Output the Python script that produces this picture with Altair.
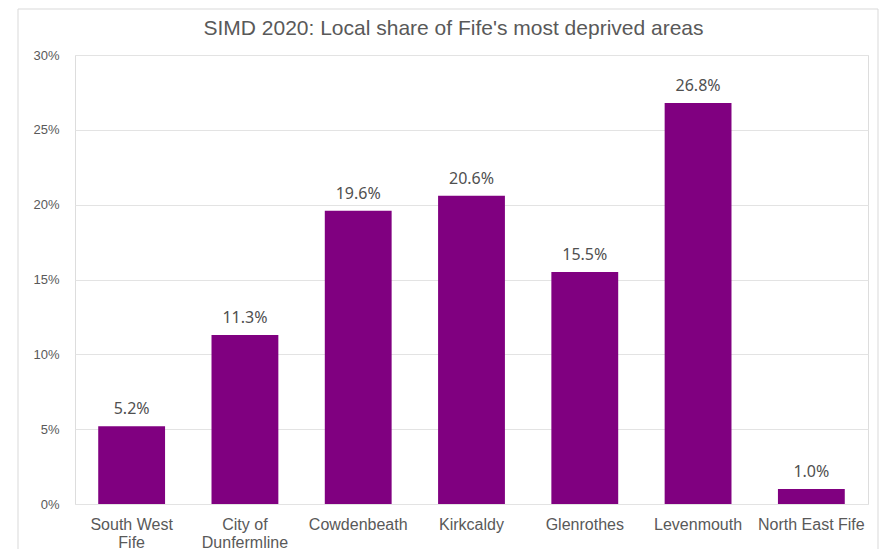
import altair as alt
import pandas as pd

areas = ["South West Fife", "City of Dunfermline", "Cowdenbeath", "Kirkcaldy",
         "Glenrothes", "Levenmouth", "North East Fife"]
shares = [5.2, 11.3, 19.6, 20.6, 15.5, 26.8, 1.0]
y_ticks = [0, 5, 10, 15, 20, 25, 30]

df = pd.DataFrame({"area": areas, "share": shares})
df["label"] = df["share"].map(lambda v: f"{v:.1f}%")

label_expr = ("datum.label == 'South West Fife' ? ['South West', 'Fife'] : "
              "datum.label == 'City of Dunfermline' ? ['City of', 'Dunfermline'] : datum.label")

base = alt.Chart(df)

x = alt.X("area:N", sort=areas, title=None,
          scale=alt.Scale(paddingInner=0.41, paddingOuter=0.205),
          axis=alt.Axis(labelAngle=0, ticks=False, domain=False, grid=False,
                        labelExpr=label_expr, labelFont="Liberation Sans",
                        labelFontSize=16, labelColor="#595959", labelPadding=12,
                        labelLineHeight=18))
y = alt.Y("share:Q", title=None,
          scale=alt.Scale(domain=[0, 30], nice=False),
          axis=alt.Axis(values=y_ticks, labelExpr="datum.value + '%'", ticks=False,
                        domain=False, grid=True, gridColor="#e3e3e3",
                        labelFont="Liberation Sans", labelFontSize=13,
                        labelColor="#595959", labelPadding=16))

bars = base.mark_bar(color="#800080").encode(x=x, y=y)
text = base.mark_text(baseline="bottom", dy=-9, font="Noto Sans", fontSize=16,
                      color="#505050").encode(x=alt.X("area:N", sort=areas),
                                              y="share:Q", text="label:N")
border = alt.Chart(pd.DataFrame({"a": [0]})).mark_rect(
    fill=None, stroke="#d9d9d9", strokeWidth=1).encode(
    x=alt.value(-57), x2=alt.value(803), y=alt.value(-46), y2=alt.value(560))

chart = alt.layer(border, bars, text).properties(
    width=793, height=449,
    title=alt.TitleParams("SIMD 2020: Local share of Fife's most deprived areas",
                          font="Liberation Sans", fontSize=21, fontWeight="normal",
                          color="#595959", anchor="middle", dx=-18, offset=-30),
    autosize=alt.AutoSizeParams(type="none"),
    padding={"left": 67, "top": 47, "right": 14, "bottom": 45},
).configure_view(stroke=None).configure(background="white")

chart.save("out.html", embed_options={"renderer": "svg", "actions": False})
